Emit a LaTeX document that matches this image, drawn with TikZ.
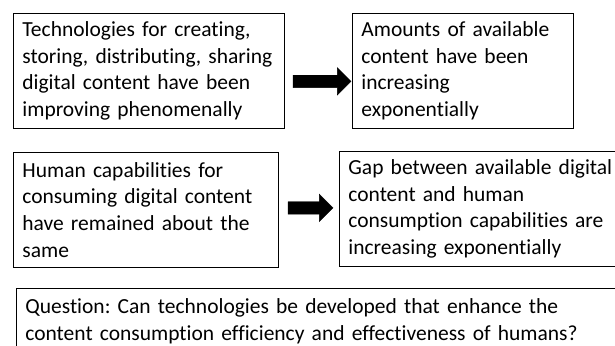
\documentclass[tikz,border=0pt]{standalone}
\usepackage{fontspec}
\setmainfont{Carlito}[Ligatures={NoCommon}]
\usetikzlibrary{positioning,shapes.arrows}
\hyphenpenalty=10000
\frenchspacing

\begin{document}
\begin{tikzpicture}[x=1pt,y=-1pt,
    box/.style={draw, line width=0.8pt, anchor=north west, align=left,
        inner xsep=9pt, inner ysep=0pt, minimum height=115pt,
        font=\fontsize{21.5}{26.6}\selectfont},
    bigarrow/.style={single arrow, fill=black, draw=black, inner xsep=0pt,
        inner ysep=6pt, single arrow head extend=7.5pt,
        single arrow head indent=0pt}]
    \useasboundingbox (0,0) rectangle (615,345);
    \clip (0,0) rectangle (615,345);

    % top row
    \node[box, text width=253pt] (tech) at (13,13)
        {Technologies for creating,\\ storing,~distributing,~sharing\\
         digital content have been\\ improving phenomenally};
    \node[box, text width=203pt] (amount) at (352,13)
        {Amounts of available\\ content have been\\ increasing\\ exponentially};
    \node[bigarrow, minimum height=58pt, right=8pt of tech, yshift=-10.5pt] (toamount) {};

    % middle row
    \node[box, text width=247pt] (human) at (13,152)
        {Human capabilities for\\ consuming digital content\\
         have remained about the\\ same};
    \node[box, text width=275pt] (gap) at (339,151)
        {Gap between available digital\\ content and human\\
         consumption capabilities are\\ increasing exponentially};
    \node[bigarrow, minimum height=45pt, right=9pt of human, yshift=2pt] (togap) {};

    % question
    \node[box, text width=600pt, minimum height=66pt] (question) at (16,288)
        {Question: Can technologies be developed that enhance the\\
         content consumption efficiency and effectiveness of humans?};
\end{tikzpicture}
\end{document}
